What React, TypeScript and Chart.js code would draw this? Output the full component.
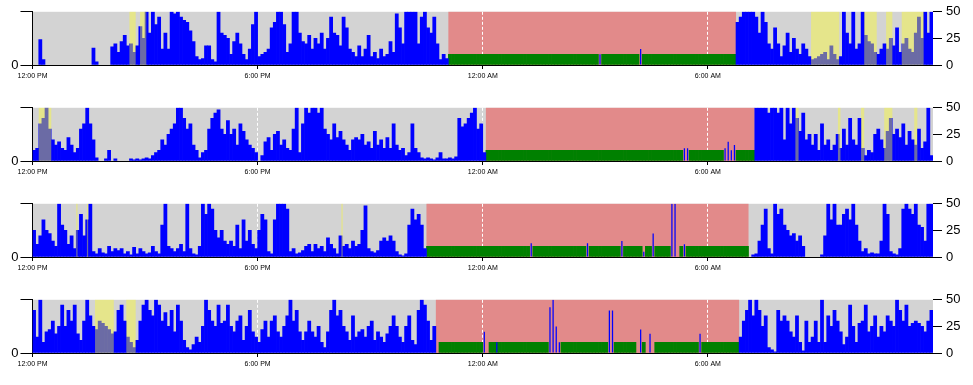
import React, { useEffect, useRef } from "react";
import { Chart, registerables } from "chart.js";

Chart.register(...registerables);

// ---- data ----
const BIN_MINUTES = 5; // each activity value covers 5 minutes, starting 12:00 PM
const DAY_MINUTES = 1440;
const X_TICKS = [0, 360, 720, 1080];
const X_TICK_LABELS = ["12:00 PM", "6:00 PM", "12:00 AM", "6:00 AM"];
const Y_MAX = 50;
const Y_RIGHT_STEP = 25;
const SLEEP_MARK_LEVEL = 10;

const ACTIVITY_1 = [
  0,0,24,5,0,0,0,0,0,0,0,0,0,0,0,0,0,0,0,16,3,0,0,0,
  0,17,20,12,22,28,18,20,12,18,36,25,50,30,50,38,45,15,30,15,50,48,50,45,
  42,40,32,22,8,5,6,18,18,5,3,50,30,28,25,10,22,30,20,10,5,15,38,50,
  8,10,12,15,35,40,50,50,38,12,20,50,50,30,22,20,28,15,25,20,30,15,25,45,
  30,28,18,45,35,15,12,8,18,8,15,28,8,12,6,15,8,10,22,12,48,35,20,50,
  50,50,50,20,45,50,35,30,45,20,5,10,6,0,0,0,0,0,0,0,0,0,0,0,
  0,0,0,0,0,0,0,0,0,0,0,0,0,0,0,0,0,0,0,0,0,0,0,0,
  0,0,0,0,0,0,0,0,0,0,0,0,0,10,0,0,0,0,0,0,0,0,0,0,
  0,0,15,0,0,0,0,0,0,0,0,0,0,0,0,0,0,0,0,0,0,0,0,0,
  0,0,0,0,0,0,0,0,0,40,45,50,50,50,50,45,30,50,40,20,15,35,20,8,
  18,30,12,25,15,10,20,15,8,5,6,8,10,12,5,18,10,5,8,50,30,20,50,15,
  20,50,28,22,20,12,10,15,20,15,25,18,35,12,20,25,15,12,30,45,25,50,30,50,
];
const ACTIVITY_2 = [
  10,12,35,40,50,30,20,15,18,12,10,22,15,8,12,30,35,50,35,20,3,0,0,2,
  10,0,2,0,0,0,0,2,1,2,1,2,3,2,5,8,10,20,15,25,30,35,50,50,
  40,30,35,15,10,3,8,10,30,40,45,48,30,25,38,25,30,15,35,28,20,15,12,8,
  0,5,18,22,10,25,28,15,20,12,10,30,50,8,35,50,45,50,50,45,50,30,25,20,
  35,22,28,20,15,10,20,22,20,25,15,18,12,28,15,20,12,22,12,35,15,10,12,5,
  8,35,12,8,3,2,3,2,1,3,8,2,2,3,2,4,40,32,35,40,45,50,30,35,
  8,0,0,0,0,0,0,0,0,0,0,0,0,0,0,0,0,0,0,0,0,0,0,0,
  0,0,0,0,0,0,0,0,0,0,0,0,0,0,0,0,0,0,0,0,0,0,0,0,
  0,0,0,0,0,0,0,0,0,0,0,0,0,0,0,0,12,12,0,0,0,0,0,0,
  0,0,0,0,0,12,18,10,15,0,0,0,0,0,0,50,50,50,50,45,50,50,45,50,
  20,50,35,50,40,28,45,20,25,15,25,10,35,15,20,10,15,25,12,30,15,40,20,15,
  40,12,5,10,8,25,30,20,12,28,40,25,30,22,35,15,28,20,15,30,12,18,50,5,
];
const ACTIVITY_3 = [
  25,12,20,35,25,22,15,10,50,30,25,12,20,8,25,40,20,35,50,5,3,8,4,3,
  10,5,8,6,8,3,5,2,9,3,8,5,3,4,10,5,3,30,50,10,8,5,8,12,
  5,50,8,3,2,10,50,40,50,45,25,18,25,15,12,15,10,30,8,35,15,25,12,8,
  25,40,35,5,3,35,50,50,50,45,5,8,3,4,6,10,12,5,12,8,10,5,18,12,
  8,3,20,10,12,8,15,10,12,25,48,8,5,4,6,15,18,15,20,15,5,2,1,3,
  30,45,35,40,30,8,0,0,0,0,0,0,0,0,0,0,0,0,0,0,0,0,0,0,
  0,0,0,0,0,0,0,0,0,0,0,0,0,0,0,13,0,0,0,0,0,0,0,0,
  0,0,0,0,0,0,0,0,0,13,0,0,0,0,0,0,0,0,0,0,15,0,0,0,
  0,0,0,5,0,0,22,0,0,0,0,0,50,50,0,0,12,0,0,0,0,0,0,0,
  0,0,0,0,0,0,0,0,0,0,0,0,0,0,2,3,15,30,45,8,3,50,40,45,
  30,25,20,22,15,20,10,0,0,0,0,0,2,20,50,35,50,30,30,40,45,35,50,30,
  15,5,8,3,4,3,3,15,50,40,5,3,2,8,45,50,45,40,50,30,28,15,50,50,
];
const ACTIVITY_4 = [
  40,15,50,10,20,22,30,18,25,45,25,40,30,45,18,12,30,50,35,25,22,30,28,25,
  22,18,20,40,45,30,15,10,5,12,30,45,50,40,35,50,45,30,38,25,40,20,45,30,
  12,5,3,8,15,10,25,50,40,30,25,45,28,30,45,25,20,30,35,12,25,40,20,15,
  10,22,30,15,30,35,20,15,25,35,50,30,40,20,12,20,30,20,15,25,10,5,20,40,
  50,35,40,25,20,12,35,15,20,22,15,25,30,12,20,15,10,18,25,35,25,15,10,25,
  35,12,8,40,50,45,30,12,25,0,0,0,0,0,0,0,0,0,0,0,0,0,0,0,
  20,0,0,0,10,0,0,0,0,0,0,0,0,0,0,0,0,0,0,0,0,43,50,25,
  10,0,0,0,0,0,0,0,0,0,0,0,0,0,0,0,40,40,0,0,0,0,0,0,
  0,0,22,0,0,18,0,0,0,0,0,0,0,0,0,0,0,0,0,0,0,18,0,0,
  0,0,0,0,0,0,0,0,0,0,15,30,40,50,35,50,40,25,35,5,3,1,40,30,
  35,30,20,15,35,10,2,30,10,15,30,10,50,10,35,25,40,30,20,8,15,45,25,10,
  28,30,45,20,25,35,15,25,20,35,30,25,50,40,30,45,25,28,30,28,25,20,30,40,
];

// sleep periods (minutes after 12:00 PM)
const SLEEP_1 = [665, 1125];
const SLEEP_2 = [725, 1155];
const SLEEP_3 = [630, 1145];
const SLEEP_4 = [645, 1130];
// sleep-marker (green) ranges and the bins where it is interrupted
const MARK_1 = [665, 1125];
const MARK_2 = [725, 1155];
const MARK_3 = [630, 1145];
const MARK_4 = [650, 1130];
const MARK_GAPS_1 = [181, 194];
const MARK_GAPS_2 = [208, 209, 221, 222, 223, 224];
const MARK_GAPS_3 = [159, 177, 188, 195, 198, 204, 205, 206, 208];
const MARK_GAPS_4 = [144, 145, 165, 166, 167, 168, 184, 185, 193, 194, 196, 197, 198, 213];
// off-wrist / other periods (yellow)
const OTHER_1 = [[155, 165], [172, 182], [1245, 1290], [1330, 1350], [1365, 1375], [1390, 1425]];
const OTHER_2 = [[10, 30], [1220, 1225], [1288, 1292], [1325, 1330], [1362, 1375], [1410, 1415]];
const OTHER_3 = [[70, 72], [87, 89], [494, 496]];
const OTHER_4 = [[100, 130], [150, 165]];

// ---- styles ----
const GRAY = "rgb(211,211,211)";
const PINK = "rgb(226,138,138)";
const GREEN = "rgb(0,128,0)";
const BLUE = "rgb(0,0,255)";
const YELLOW_OVERLAY = "rgba(255,255,40,0.42)";
const FONT = "'Liberation Sans', Arial, sans-serif";

type PanelProps = {
  activity: number[];
  sleep: number[];
  mark: number[];
  gaps: number[];
  other: number[][];
};

function Panel({ activity, sleep, mark, gaps, other }: PanelProps) {
  const ref = useRef<HTMLCanvasElement>(null);

  useEffect(() => {
    const canvas = ref.current;
    if (!canvas) return;

    const inSleep = (t: number) => t >= sleep[0] && t < sleep[1];
    const awakeData = activity.map((v, i) => {
      const t = i * BIN_MINUTES;
      return { x: t + BIN_MINUTES / 2, y: v > 0 && !inSleep(t) ? v : null };
    });
    const sleepData = activity.map((v, i) => {
      const t = i * BIN_MINUTES;
      return { x: t + BIN_MINUTES / 2, y: v > 0 && inSleep(t) ? v : null };
    });
    const greenData: { x: number; y: number }[] = [];
    for (let i = 0; i < activity.length; i++) {
      const t = i * BIN_MINUTES;
      if (t >= mark[0] && t < mark[1] && !gaps.includes(i)) {
        greenData.push({ x: t + BIN_MINUTES / 2, y: SLEEP_MARK_LEVEL });
      }
    }

    const bgPlugin = {
      id: "panelBackground",
      beforeDraw(chart: any) {
        const { ctx, chartArea: a, scales } = chart;
        const xs = scales.x;
        ctx.save();
        ctx.fillStyle = GRAY;
        ctx.fillRect(a.left, a.top, a.right - a.left, a.bottom - a.top);
        const x1 = xs.getPixelForValue(sleep[0]);
        const x2 = xs.getPixelForValue(sleep[1]);
        ctx.fillStyle = PINK;
        ctx.fillRect(x1, a.top, x2 - x1, a.bottom - a.top);
        ctx.restore();
      },
      afterDatasetsDraw(chart: any) {
        const { ctx, chartArea: a, scales } = chart;
        const xs = scales.x;
        ctx.save();
        ctx.fillStyle = YELLOW_OVERLAY;
        for (const [s, e] of other) {
          const x1 = xs.getPixelForValue(s);
          const x2 = xs.getPixelForValue(e);
          ctx.fillRect(x1, a.top, x2 - x1, a.bottom - a.top);
        }
        ctx.restore();
      },
    };

    const barBase = {
      borderWidth: 0,
      categoryPercentage: 1,
      grouped: false,
      yAxisID: "y",
    };

    const chart = new Chart(canvas, {
      type: "bar",
      data: {
        datasets: [
          { ...barBase, data: awakeData as any, backgroundColor: BLUE, barPercentage: 1, order: 1 },
          { ...barBase, data: sleepData as any, backgroundColor: BLUE, barPercentage: 0.4, order: 1 },
          { ...barBase, data: greenData as any, backgroundColor: GREEN, barPercentage: 1, order: 2 },
        ],
      },
      options: {
        responsive: false,
        animation: false,
        devicePixelRatio: 1,
        layout: { padding: { top: 10.5, left: 0, right: 0, bottom: 0 } },
        plugins: { legend: { display: false }, tooltip: { enabled: false } },
        scales: {
          x: {
            type: "linear",
            min: 0,
            max: DAY_MINUTES,
            offset: false,
            afterBuildTicks: (s: any) => {
              s.ticks = X_TICKS.map((v) => ({ value: v }));
            },
            afterFit: (s: any) => {
              s.height = 31;
            },
            ticks: {
              autoSkip: false,
              maxRotation: 0,
              padding: 3,
              color: "#000",
              font: { family: FONT, size: 7 },
              callback: (v: any) => {
                const i = X_TICKS.indexOf(Number(v));
                return i >= 0 ? X_TICK_LABELS[i] : "";
              },
            },
            grid: {
              offset: false,
              color: "#ffffff",
              lineWidth: 1,
              drawTicks: true,
              tickLength: 4,
              tickColor: "#000",
            },
            border: { display: true, color: "#000", width: 1, dash: [3, 2] },
          },
          y: {
            position: "left",
            min: 0,
            max: Y_MAX,
            afterBuildTicks: (s: any) => {
              s.ticks = [{ value: 0 }, { value: Y_MAX }];
            },
            afterFit: (s: any) => {
              s.width = 32.5;
            },
            ticks: {
              padding: 2,
              color: "#000",
              font: { family: FONT, size: 13 },
              callback: (v: any) => (Number(v) === 0 ? "0" : ""),
            },
            grid: { drawOnChartArea: false, tickLength: 12, tickColor: "#000", color: "#000" },
            border: { display: true, color: "#000", width: 1 },
          },
          y2: {
            position: "right",
            min: 0,
            max: Y_MAX,
            afterBuildTicks: (s: any) => {
              const t = [];
              for (let v = 0; v <= Y_MAX; v += Y_RIGHT_STEP) t.push({ value: v });
              s.ticks = t;
            },
            afterFit: (s: any) => {
              s.width = 40;
            },
            ticks: {
              padding: 4,
              color: "#000",
              font: { family: FONT, size: 13 },
            },
            grid: { drawOnChartArea: false, tickLength: 9, tickColor: "#000", color: "#000" },
            border: { display: false },
          },
        },
      },
      plugins: [bgPlugin],
    } as any);

    return () => chart.destroy();
  }, [activity, sleep, mark, gaps, other]);

  return (
    <canvas
      ref={ref}
      width={973}
      height={96}
      style={{ display: "block", width: 973, height: 96 }}
    />
  );
}

export default function App() {
  return (
    <div style={{ position: "absolute", left: 0, top: 0, width: 973, height: 385, background: "#fff" }}>
      <Panel activity={ACTIVITY_1} sleep={SLEEP_1} mark={MARK_1} gaps={MARK_GAPS_1} other={OTHER_1} />
      <Panel activity={ACTIVITY_2} sleep={SLEEP_2} mark={MARK_2} gaps={MARK_GAPS_2} other={OTHER_2} />
      <Panel activity={ACTIVITY_3} sleep={SLEEP_3} mark={MARK_3} gaps={MARK_GAPS_3} other={OTHER_3} />
      <Panel activity={ACTIVITY_4} sleep={SLEEP_4} mark={MARK_4} gaps={MARK_GAPS_4} other={OTHER_4} />
    </div>
  );
}
